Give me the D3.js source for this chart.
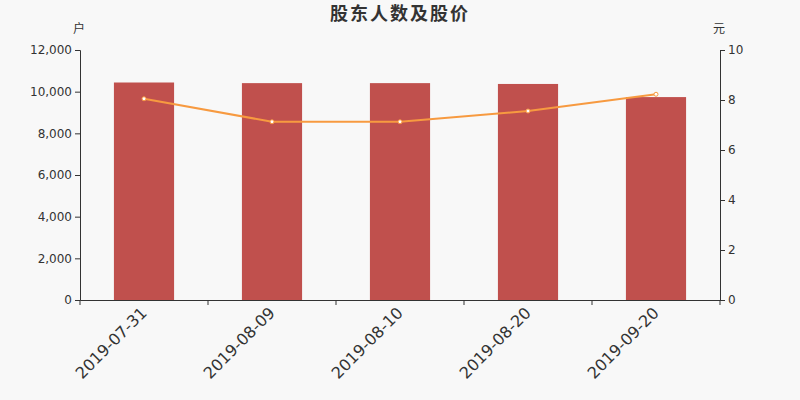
<!DOCTYPE html>
<html>
<head>
<meta charset="utf-8">
<script src="https://cdn.jsdelivr.net/npm/d3@7"></script>
<style>
  body { margin: 0; background: #f8f8f8; }
  svg { display: block; }
</style>
</head>
<body>
<svg width="800" height="400"></svg>
<script>
const DATES = ["2019-07-31", "2019-08-09", "2019-08-10", "2019-08-20", "2019-09-20"];
const HOLDERS = [10440, 10410, 10410, 10370, 9740];
const PRICES = [8.05, 7.13, 7.13, 7.56, 8.23];
const LEFT_TICKS = [0, 2000, 4000, 6000, 8000, 10000, 12000];
const RIGHT_TICKS = [0, 2, 4, 6, 8, 10];

var svg = d3.select("svg"),
    plotL = 80, plotR = 720, plotT = 50, plotB = 300,
    FONT = "'DejaVu Sans', sans-serif",
    CJK = "'Noto Sans CJK SC', sans-serif";

svg.append("rect").attr("width", 800).attr("height", 400).attr("fill", "#f8f8f8");

var x = d3.scaleBand().domain(DATES).range([plotL, plotR]).padding(0),
    yL = d3.scaleLinear().domain([0, 12000]).range([plotB, plotT]),
    yR = d3.scaleLinear().domain([0, 10]).range([plotB, plotT]);

var barW = x.bandwidth() * 0.47;

// bars
svg.selectAll(".bar")
   .data(DATES)
   .enter().append("rect")
   .attr("class", "bar")
   .attr("x", function(d) { return x(d) + (x.bandwidth() - barW) / 2; })
   .attr("y", function(d, i) { return yL(HOLDERS[i]); })
   .attr("width", barW)
   .attr("height", function(d, i) { return plotB - yL(HOLDERS[i]); })
   .attr("fill", "#c0504d");

// axes
var gL = svg.append("g")
   .attr("transform", "translate(" + plotL + ",0)")
   .call(d3.axisLeft(yL).tickValues(LEFT_TICKS).tickSize(5).tickPadding(3).tickFormat(d3.format(",")));

var gR = svg.append("g")
   .attr("transform", "translate(" + plotR + ",0)")
   .call(d3.axisRight(yR).tickValues(RIGHT_TICKS).tickSize(5).tickPadding(3));

var gB = svg.append("g")
   .attr("transform", "translate(0," + plotB + ")")
   .call(d3.axisBottom(x).tickSize(0).tickFormat(""));

// category boundary ticks
gB.selectAll(".bound")
   .data(DATES.concat(["end"]))
   .enter().append("line")
   .attr("x1", function(d, i) { return plotL + i * x.step(); })
   .attr("x2", function(d, i) { return plotL + i * x.step(); })
   .attr("y1", 0).attr("y2", 5)
   .attr("stroke", "#333");

gB.selectAll(".lbl")
   .data(DATES)
   .enter().append("text")
   .attr("transform", function(d) { return "translate(" + (x(d) + x.bandwidth() / 2) + ",10) rotate(-45)"; })
   .attr("text-anchor", "end")
   .attr("dy", "0.35em")
   .attr("font-family", FONT)
   .attr("font-size", "16px")
   .attr("fill", "#333")
   .text(function(d) { return d; });

[gL, gR, gB].forEach(function(g) {
  g.attr("font-family", FONT);
  g.select(".domain").attr("stroke", "#333");
  g.selectAll(".tick line").attr("stroke", "#333");
  g.selectAll(".tick text").attr("fill", "#333").attr("font-size", "12px");
});

// price line
var line = d3.line()
   .x(function(d, i) { return x(DATES[i]) + x.bandwidth() / 2; })
   .y(function(d) { return yR(d); });

svg.append("path")
   .datum(PRICES)
   .attr("d", line)
   .attr("fill", "none")
   .attr("stroke", "#f79a40")
   .attr("stroke-width", 2);

svg.selectAll(".pt")
   .data(PRICES)
   .enter().append("circle")
   .attr("cx", function(d, i) { return x(DATES[i]) + x.bandwidth() / 2; })
   .attr("cy", function(d) { return yR(d); })
   .attr("r", 2)
   .attr("fill", "#fff")
   .attr("stroke", "#f79a40")
   .attr("stroke-width", 1);

// titles
svg.append("text")
   .attr("x", 400).attr("y", 20)
   .attr("text-anchor", "middle")
   .attr("font-family", CJK)
   .attr("font-size", "18px")
   .attr("font-weight", "bold")
   .attr("letter-spacing", "2px")
   .attr("fill", "#333")
   .text("股东人数及股价");

svg.append("text")
   .attr("x", 79).attr("y", 33)
   .attr("text-anchor", "middle")
   .attr("font-family", CJK)
   .attr("font-size", "12px")
   .attr("fill", "#333")
   .text("户");

svg.append("text")
   .attr("x", 719).attr("y", 33)
   .attr("text-anchor", "middle")
   .attr("font-family", CJK)
   .attr("font-size", "12px")
   .attr("fill", "#333")
   .text("元");
</script>
</body>
</html>
